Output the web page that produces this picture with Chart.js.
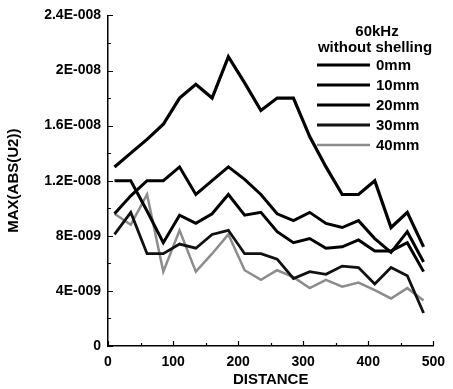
<!DOCTYPE html>
<html>
<head>
<meta charset="utf-8">
<script src="https://cdn.jsdelivr.net/npm/chart.js@4.4.1/dist/chart.umd.min.js"></script>
<style>
html, body { margin: 0; padding: 0; background: #fff; }
#wrap { width: 453px; height: 389px; }
</style>
</head>
<body>
<div id="wrap"><canvas id="myChart" width="453" height="389"></canvas></div>
<script>
// data
const distances = [10, 35, 60, 85, 110, 135, 160, 185, 210, 235, 260, 285, 310, 335, 360, 385, 410, 435, 460, 485];
const amp0mm  = [13.0e-9, 14.0e-9, 15.0e-9, 16.1e-9, 18.0e-9, 19.0e-9, 18.0e-9, 21.0e-9, 19.1e-9, 17.1e-9, 18.0e-9, 18.0e-9, 15.2e-9, 13.0e-9, 11.0e-9, 11.0e-9, 12.0e-9, 8.6e-9, 9.7e-9, 7.2e-9];
const amp10mm = [9.6e-9, 10.9e-9, 12.0e-9, 12.0e-9, 13.0e-9, 11.0e-9, 12.0e-9, 13.0e-9, 12.1e-9, 11.0e-9, 9.6e-9, 9.1e-9, 9.7e-9, 8.9e-9, 8.6e-9, 9.1e-9, 7.8e-9, 6.8e-9, 8.3e-9, 6.1e-9];
const amp20mm = [12.0e-9, 12.0e-9, 9.8e-9, 7.5e-9, 9.5e-9, 8.9e-9, 9.6e-9, 11.0e-9, 9.5e-9, 9.7e-9, 8.3e-9, 7.5e-9, 7.8e-9, 7.1e-9, 7.2e-9, 7.7e-9, 6.9e-9, 6.9e-9, 7.5e-9, 5.4e-9];
const amp30mm = [8.1e-9, 9.7e-9, 6.7e-9, 6.7e-9, 7.4e-9, 7.1e-9, 8.1e-9, 8.4e-9, 6.7e-9, 6.7e-9, 6.3e-9, 4.9e-9, 5.4e-9, 5.2e-9, 5.8e-9, 5.7e-9, 4.5e-9, 5.7e-9, 5.1e-9, 2.4e-9];
const amp40mm = [9.6e-9, 8.8e-9, 11.0e-9, 5.4e-9, 8.4e-9, 5.4e-9, 6.7e-9, 8.1e-9, 5.5e-9, 4.8e-9, 5.5e-9, 5.0e-9, 4.2e-9, 4.8e-9, 4.3e-9, 4.6e-9, 4.05e-9, 3.45e-9, 4.2e-9, 3.3e-9];

const seriesLabels = ['0mm', '10mm', '20mm', '30mm', '40mm'];
const xTickValues = [0, 100, 200, 300, 400, 500];
const yTickValues = [0, 4e-9, 8e-9, 1.2e-8, 1.6e-8, 2e-8, 2.4e-8];
const yTickLabels = ['0', '4E-009', '8E-009', '1.2E-008', '1.6E-008', '2E-008', '2.4E-008'];
const legendTitle = ['60kHz', 'without shelling'];

const FONT = '"Liberation Sans", Arial, sans-serif';

function toPoints(values) {
    return values.map((v, i) => ({ x: distances[i], y: v }));
}

// ticks drawn inward, like the original plot
const innerTicks = {
    id: 'innerTicks',
    afterDraw(chart) {
        const { ctx, scales: { x, y } } = chart;
        ctx.save();
        ctx.strokeStyle = '#000';
        ctx.lineWidth = 1.2;
        ctx.beginPath();
        for (let v = 0; v <= 500; v += 50) {
            const px = Math.round(x.getPixelForValue(v)) + 0.5;
            const len = v % 100 === 0 ? 5 : 3;
            ctx.moveTo(px, y.bottom);
            ctx.lineTo(px, y.bottom - len);
        }
        for (let k = 0; k <= 12; k++) {
            const py = Math.round(y.getPixelForValue(k * 2e-9)) + 0.5;
            const len = k % 2 === 0 ? 5 : 3;
            ctx.moveTo(x.left, py);
            ctx.lineTo(x.left + len, py);
        }
        ctx.stroke();
        ctx.restore();
    }
};

// legend in the upper right corner
const cornerLegend = {
    id: 'cornerLegend',
    afterDraw(chart) {
        const ctx = chart.ctx;
        ctx.save();
        ctx.fillStyle = '#000';
        ctx.font = 'bold 15px ' + FONT;
        ctx.textAlign = 'center';
        ctx.textBaseline = 'middle';
        ctx.fillText(legendTitle[0], 377, 32);
        ctx.fillText(legendTitle[1], 375, 48);
        ctx.textAlign = 'left';
        chart.data.datasets.forEach((ds, i) => {
            const yy = 65 + i * 20;
            ctx.strokeStyle = ds.borderColor;
            ctx.lineWidth = ds.borderWidth;
            ctx.beginPath();
            ctx.moveTo(317, yy);
            ctx.lineTo(370, yy);
            ctx.stroke();
            ctx.fillText(ds.label, 376, yy + 1);
        });
        ctx.restore();
    }
};

const amps = [amp0mm, amp10mm, amp20mm, amp30mm, amp40mm];
const colors = ['#000', '#000', '#000', '#111', '#8c8c8c'];
const widths = [3.2, 3, 3, 2.8, 2.5];

new Chart(document.getElementById('myChart').getContext('2d'), {
    type: 'line',
    data: {
        datasets: amps.map((a, i) => ({
            label: seriesLabels[i],
            data: toPoints(a),
            borderColor: colors[i],
            borderWidth: widths[i],
            pointRadius: 0,
            tension: 0,
            fill: false
        }))
    },
    options: {
        responsive: false,
        animation: false,
        devicePixelRatio: 1,
        layout: { padding: { top: 14, right: 14, left: 0, bottom: 0 } },
        plugins: { legend: { display: false }, tooltip: { enabled: false } },
        scales: {
            x: {
                type: 'linear',
                min: 0,
                max: 500,
                afterBuildTicks: s => { s.ticks = xTickValues.map(v => ({ value: v })); },
                afterFit: s => { s.height = 43; },
                grid: { display: false, drawTicks: false },
                border: { display: true, color: '#000', width: 1.5 },
                ticks: {
                    color: '#000',
                    padding: 8,
                    maxRotation: 0,
                    font: { family: FONT, size: 14, weight: 'bold' },
                    callback: v => String(v)
                },
                title: {
                    display: true,
                    text: 'DISTANCE',
                    color: '#000',
                    padding: { top: 0, bottom: 0 },
                    font: { family: FONT, size: 15, weight: 'bold', lineHeight: 1.2 }
                }
            },
            y: {
                min: 0,
                max: 2.4e-8,
                afterBuildTicks: s => { s.ticks = yTickValues.map(v => ({ value: v })); },
                afterFit: s => { s.width = 108; },
                grid: { display: false, drawTicks: false },
                border: { display: true, color: '#000', width: 1.5 },
                ticks: {
                    color: '#000',
                    padding: 7,
                    font: { family: FONT, size: 14, weight: 'bold' },
                    callback: (v, i) => yTickLabels[i]
                },
                title: {
                    display: true,
                    text: 'MAX(ABS(U2))',
                    color: '#000',
                    padding: { top: 5, bottom: 0 },
                    font: { family: FONT, size: 15, weight: 'bold', lineHeight: 1.2 }
                }
            }
        }
    },
    plugins: [innerTicks, cornerLegend]
});
</script>
</body>
</html>
